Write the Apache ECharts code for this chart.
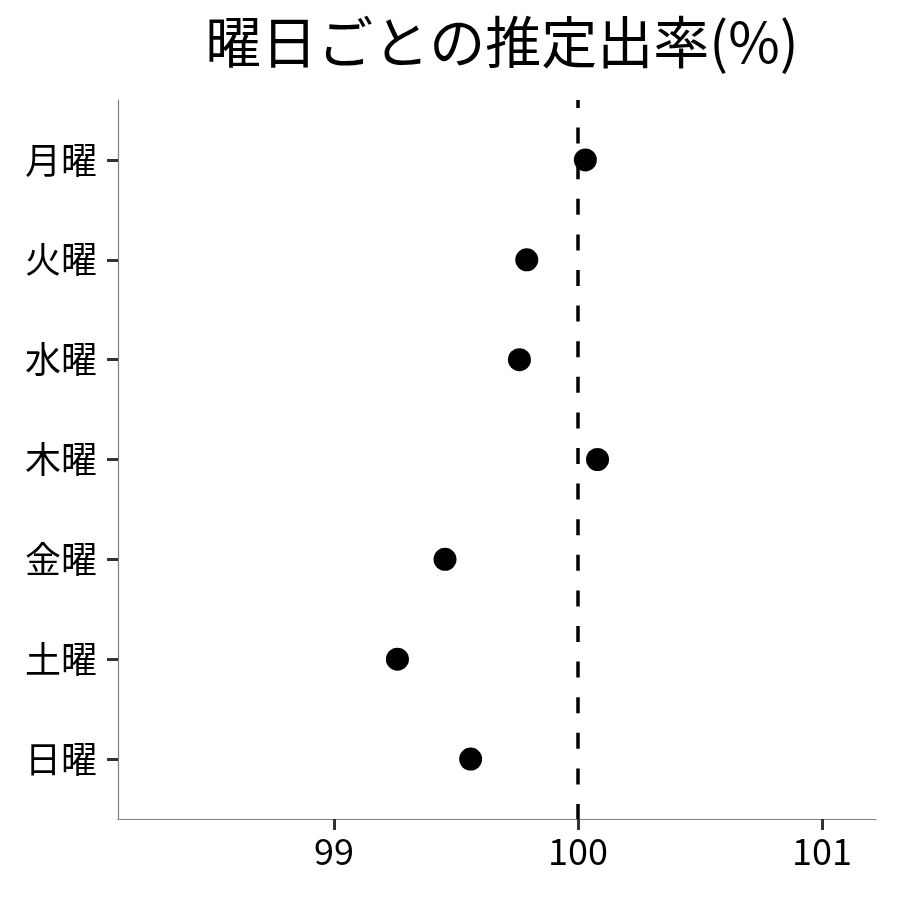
<!DOCTYPE html>
<html>
<head>
<meta charset="utf-8">
<script src="https://cdn.jsdelivr.net/npm/echarts@6/dist/echarts.min.js"></script>
<style>
html, body { margin: 0; padding: 0; background: #fff; }
#chart { width: 900px; height: 900px; }
</style>
</head>
<body>
<div id="chart"></div>
<script>
// 曜日 (上から順)
const days = ['月曜', '火曜', '水曜', '木曜', '金曜', '土曜', '日曜'];
// 推定出率(%)
const rates = [100.03, 99.79, 99.76, 100.08, 99.455, 99.26, 99.56];
const xTicks = [99, 100, 101];
const refValue = 100;

const font = '"Noto Sans CJK JP", "Noto Sans", sans-serif';

const chart = echarts.init(document.getElementById('chart'));

const option = {
    animation: false,
    backgroundColor: '#fff',
    title: {
        text: '曜日ごとの推定出率(%)',
        left: 497,
        top: 9,
        textAlign: 'center',
        textStyle: { fontFamily: font, fontSize: 56, fontWeight: 'normal', color: '#000' }
    },
    grid: { left: 118, right: 24, top: 100, bottom: 81, containLabel: false },
    xAxis: {
        type: 'value',
        min: 98.115,
        max: 101.221,
        splitLine: { show: false },
        axisLine: { show: true, onZero: false, lineStyle: { color: '#7f7f7f', width: 1.2 } },
        axisTick: { show: true, length: 11, lineStyle: { color: '#333', width: 3 }, customValues: xTicks },
        axisLabel: {
            customValues: xTicks,
            margin: 14,
            fontFamily: font, fontSize: 36, color: '#000'
        }
    },
    yAxis: {
        type: 'value',
        inverse: true,
        min: -0.6,
        max: 6.6,
        splitLine: { show: false },
        axisLine: { show: true, onZero: false, lineStyle: { color: '#7f7f7f', width: 1.2 } },
        axisTick: { show: true, length: 11, lineStyle: { color: '#333', width: 3 }, customValues: days.map((d, i) => i) },
        axisLabel: {
            customValues: days.map((d, i) => i),
            formatter: (v) => days[Math.round(v)] || '',
            margin: 21,
            fontFamily: font, fontSize: 36, color: '#000'
        }
    },
    series: [{
        type: 'scatter',
        data: rates.map((r, i) => [r, i]),
        symbol: 'circle',
        symbolSize: 23,
        itemStyle: { color: '#000', opacity: 1 },
        z: 5,
        markLine: {
            silent: true,
            symbol: ['none', 'none'],
            label: { show: false },
            lineStyle: { color: '#000', width: 3.5, type: [16, 19.6], dashOffset: 8 },
            data: [[{ coord: [refValue, -0.6] }, { coord: [refValue, 6.6] }]],
            z: 1
        }
    }]
};

chart.setOption(option);
</script>
</body>
</html>
